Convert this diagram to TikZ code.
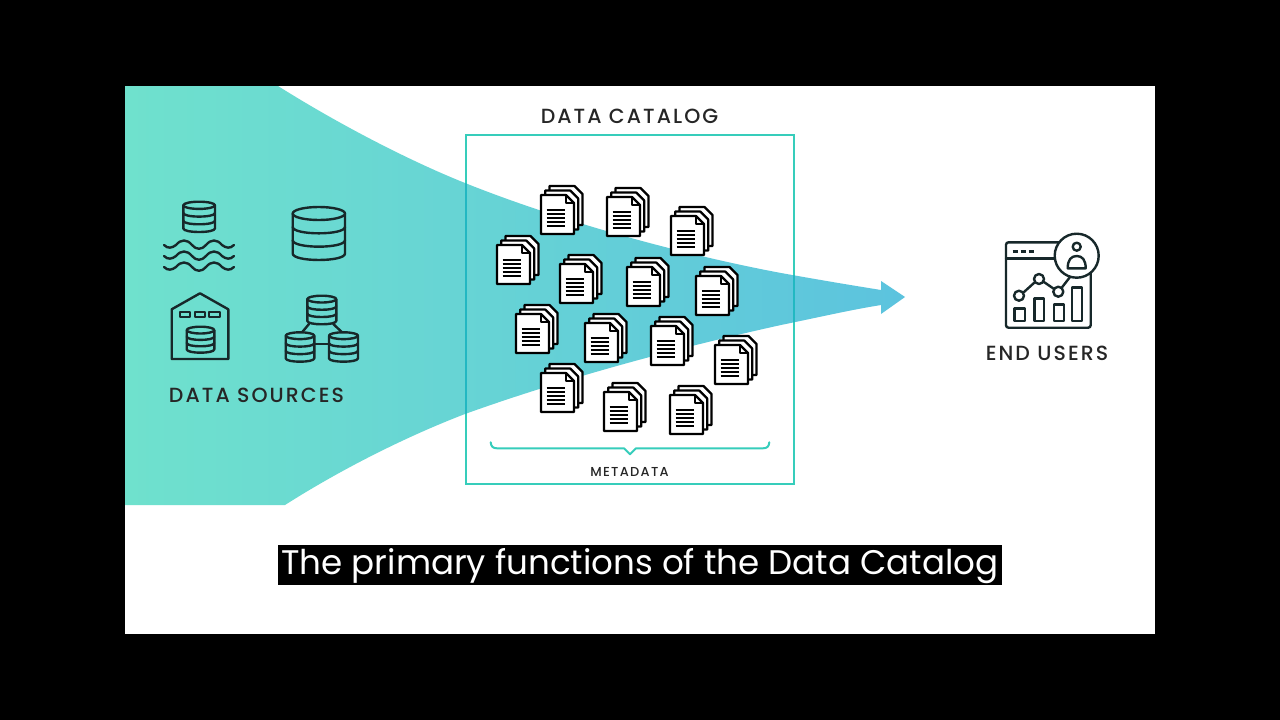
\documentclass[tikz,border=0pt]{standalone}
\usepackage{fontspec}
\setmainfont{Poppins}
\newfontfamily\lblfont[LetterSpace=10]{Poppins Medium}
\usetikzlibrary{calc}
\definecolor{ink}{HTML}{17282A}
\definecolor{tealbox}{HTML}{36CDBB}
\definecolor{tealdark}{HTML}{22B8C2}
\definecolor{fleft}{HTML}{6FE1CD}
\definecolor{fright}{HTML}{5CC3DE}
\tikzset{
  ico/.style={draw=ink,line width=2.4pt,line join=round,line cap=round},
  docpage/.style={draw=black,fill=white,line width=2.2pt,line join=round},
  lbl/.style={inner sep=0pt,text=black!85,font=\lblfont},
}
\newcommand{\funnelpath}{(125,86) -- (278,86)
  .. controls (340,125) and (410,161) .. (465,183)
  .. controls (560,221) and (680,254) .. (781,273)
  .. controls (820,280) and (850,285) .. (881,290)
  -- (881,281) -- (905,297) -- (881,314) -- (881,305)
  .. controls (850,310) and (820,317) .. (781,325)
  .. controls (681,347) and (565,378) .. (465,414)
  .. controls (405,437) and (340,470) .. (285,505)
  -- (125,505) -- cycle}
% \dbstack{left}{right}{top}{bottom}{ry}
\newcommand{\dbstack}[5]{%
  \pgfmathsetmacro{\cxa}{(#1+#2)/2}\pgfmathsetmacro{\rxa}{(#2-#1)/2}%
  \pgfmathsetmacro{\yt}{#3+#5}\pgfmathsetmacro{\yb}{#4-#5}%
  \pgfmathsetmacro{\ya}{\yt+(\yb-\yt)/3}\pgfmathsetmacro{\yc}{\yt+2*(\yb-\yt)/3}%
  \draw[ico] (\cxa,\yt) ellipse [x radius=\rxa, y radius=#5];
  \draw[ico] (#1,\yt) -- (#1,\yb) .. controls (#1,{\yb+1.33*#5}) and (#2,{\yb+1.33*#5}) .. (#2,\yb) -- (#2,\yt);
  \draw[ico] (#1,\ya) .. controls (#1,{\ya+1.33*#5}) and (#2,{\ya+1.33*#5}) .. (#2,\ya);
  \draw[ico] (#1,\yc) .. controls (#1,{\yc+1.33*#5}) and (#2,{\yc+1.33*#5}) .. (#2,\yc);
}
\newcommand{\wave}[1]{%
  \draw[ico] (164,#1) .. controls (168,{#1+4}) and (172,{#1+3}) .. (176,#1)
    .. controls (181,{#1-6}) and (187,{#1-6}) .. (192,#1)
    .. controls (196,{#1+5}) and (202,{#1+5}) .. (206,#1)
    .. controls (211,{#1-6}) and (217,{#1-6}) .. (222,#1)
    .. controls (226,{#1+3}) and (230,{#1+4}) .. (234,#1);
}
\newcommand{\docpageat}[2]{%
  \draw[docpage] (#1,#2) -- ({#1+25},#2) -- ({#1+33},{#2+8}) -- ({#1+33},{#2+39}) -- (#1,{#2+39}) -- cycle;
}
% \docicon{left of bounding box}{top of bounding box}
\newcommand{\docicon}[2]{%
  \docpageat{#1+8.5}{#2}
  \docpageat{#1+4.2}{#2+4.5}
  \docpageat{#1}{#2+9}
  \draw[black,line width=1.3pt,line join=round] ({#1+25},{#2+9}) -- ({#1+25},{#2+17}) -- ({#1+33},{#2+17});
  \foreach \k in {0,1,2,3,4}{
    \draw[black,line width=2pt] ({#1+5.5},{#2+23.5+\k*4.1}) -- ({#1+23.5},{#2+23.5+\k*4.1});
  }
}
\begin{document}
\begin{tikzpicture}[x=1pt,y=-1pt]
\useasboundingbox (0,0) rectangle (1280,720);
\fill[black] (0,0) rectangle (1280,720);
\fill[white] (125,86) rectangle (1155,634);
% funnel
\shade[left color=fleft,right color=fright,middle color=fleft!50!fright] \funnelpath;
% data sources icons
\dbstack{183.3}{215}{201.7}{232}{3.6}
\wave{245}\wave{256}\wave{267}
\dbstack{292.7}{345}{207}{260}{6.5}
\draw[ico] (171.7,359) -- (171.7,309.3) -- (200,293.3) -- (228.3,309.3) -- (228.3,359) -- cycle;
\draw[ico,line width=1.8pt] (180,311.7) rectangle (190,317.3);
\draw[ico,line width=1.8pt] (195,311.7) rectangle (205,317.3);
\draw[ico,line width=1.8pt] (209.3,311.7) rectangle (220,317.3);
\dbstack{186.7}{214.3}{326.7}{352.7}{3.4}
\dbstack{307.3}{336.3}{295.7}{324.3}{3.4}
\dbstack{285.7}{314.3}{332.3}{361.7}{3.4}
\dbstack{329}{358}{332.3}{361.7}{3.4}
\draw[ico] (309,324) -- (302.3,332);
\draw[ico] (333.3,324) -- (341.7,332);
\draw[ico] (314.3,344) -- (329,344);
\node[lbl,font=\lblfont\fontsize{20.5}{22}\selectfont] (sources) at (256.5,395.5) {DATA SOURCES};
% catalog frame
\draw[tealbox,line width=2.2pt] (466,135) rectangle (794,484);
\begin{scope}
  \clip \funnelpath;
  \draw[tealdark,line width=2.2pt] (466,135) rectangle (794,484);
\end{scope}
\node[lbl,font=\lblfont\fontsize{20.5}{22}\selectfont] (catalog) at (629.5,116.5) {DATA CATALOG};
% documents
\docicon{541}{186}
\docicon{607}{188}
\docicon{671}{207}
\docicon{497}{236}
\docicon{560}{255}
\docicon{627}{258}
\docicon{696}{267}
\docicon{516}{305}
\docicon{585}{314}
\docicon{651}{317}
\docicon{715}{336}
\docicon{541}{364}
\docicon{604}{383}
\docicon{670}{386}
% brace
\draw[tealbox,line width=2pt,line cap=round,line join=round]
  (490.7,442.3) .. controls (491,446.5) and (493,448.3) .. (497,448.3)
  -- (624,448.3) -- (630,454.3) -- (636,448.3) -- (763,448.3)
  .. controls (767,448.3) and (769,446.5) .. (769.3,442.3);
\node[lbl,font=\lblfont\fontsize{13}{15}\selectfont] (metadata) at (629.5,471.5) {METADATA};
% end users
\draw[ico,rounded corners=2.5pt] (1006,242.3) rectangle (1090.7,327.7);
\draw[ico] (1006,258.3) -- (1070,258.3);
\foreach \x in {1015,1023,1031}{\draw[ink,line width=3pt] ({\x-2.5},251) -- ({\x+2.5},251);}
\draw[ico] (1024,292) -- (1034.5,282.5);
\draw[ico] (1043.2,281.5) -- (1053.8,288.8);
\draw[ico] (1061.5,288) -- (1070,277);
\draw[ico] (1019,295.7) circle (5);
\draw[ico] (1039,279) circle (5);
\draw[ico] (1058.3,291.7) circle (5);
\draw[ico] (1014.3,308.3) rectangle (1025,321);
\draw[ico] (1034.3,298.3) rectangle (1044,321);
\draw[ico] (1054,304.3) rectangle (1064,321);
\draw[ico] (1071.7,287.3) rectangle (1081.7,321);
\draw[ico,fill=white] (1076.7,255.7) circle (22);
\draw[ico] (1076.7,246.7) circle (4);
\draw[ico] (1067.7,268.3) .. controls (1067.7,260) and (1071,256) .. (1076.7,256) .. controls (1082.4,256) and (1085.7,260) .. (1085.7,268.3) -- cycle;
\node[lbl,font=\lblfont\fontsize{20.5}{22}\selectfont] (users) at (1047,353.5) {END USERS};
% caption
\fill[black] (278,545) rectangle (1002,585);
\node[inner sep=0pt,text=white,font=\fontsize{34.1}{40}\selectfont] (caption) at (640,566) {The primary functions of the Data Catalog};
\end{tikzpicture}
\end{document}
